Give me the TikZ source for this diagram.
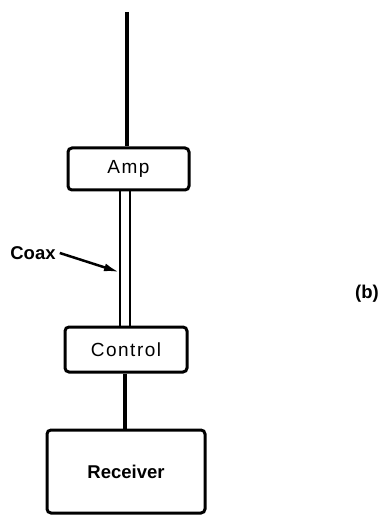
\documentclass[tikz,border=0pt]{standalone}
\usepackage{fontspec}
\setmainfont{Liberation Sans}
\usetikzlibrary{arrows.meta}
\begin{document}
\begin{tikzpicture}[x=1pt,y=-1pt,
  blk/.style={draw, line width=3pt, rounded corners=4pt, inner sep=0pt, fill=white},
  regtxt/.style={font=\fontsize{19}{22}\selectfont\addfontfeatures{LetterSpace=8}},
  boldtxt/.style={font=\fontsize{18.5}{22}\selectfont\bfseries},
  wire/.style={line width=3.5pt},
  coaxline/.style={line width=2.5pt}]
\useasboundingbox (0,0) rectangle (386,518);
\coordinate (top) at (127,12);
\node[blk, regtxt, minimum width=121pt, minimum height=42pt] (amp) at (128.5,169) {Amp};
\node[blk, regtxt, minimum width=122pt, minimum height=45pt] (ctrl) at (126,349.5) {Control};
\node[blk, boldtxt, minimum width=158pt, minimum height=83pt] (rcv) at (126,471.5) {Receiver};
\node[boldtxt, inner sep=0pt] (coax) at (33,253) {Coax};
\node[boldtxt, inner sep=0pt] (b) at (367,294) {(b)};
\draw[wire] (top) -- (top |- amp.north);
\draw[coaxline] ([xshift=-5pt]amp.south -| 125,0) -- ([xshift=-5pt]ctrl.north -| 125,0);
\draw[coaxline] ([xshift=5pt]amp.south -| 125,0) -- ([xshift=5pt]ctrl.north -| 125,0);
\coordinate (tip) at (119,272);
\draw[line width=2.5pt, -{Latex[length=15pt,width=8pt]}] ([xshift=4pt]coax.east) -- (tip);
\draw[wire] (ctrl.south -| 125,0) -- (rcv.north -| 125,0);
\end{tikzpicture}
\end{document}
